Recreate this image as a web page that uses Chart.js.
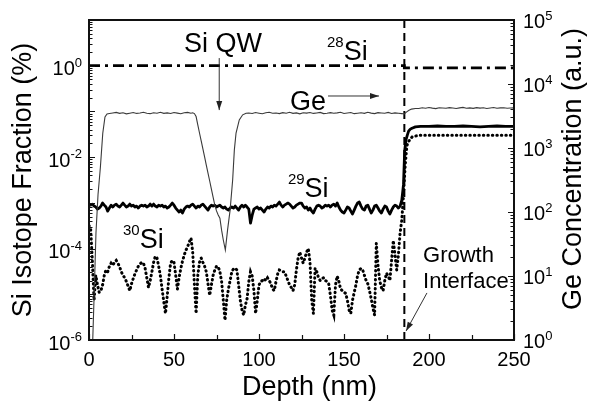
<!DOCTYPE html>
<html>
<head>
<meta charset="utf-8">
<script src="https://cdn.jsdelivr.net/npm/chart.js@4.4.1/dist/chart.umd.min.js"></script>
<style>
html,body{margin:0;padding:0;background:#fff;}
#c{display:block;}
</style>
</head>
<body>
<canvas id="c" width="590" height="403"></canvas>
<script>
// ---------------- DATA ----------------
// Depth grid of the noisy SIMS traces: 1 nm per sample, starting at 0 nm (index = depth in nm)
// 29Si fraction (%) below the growth interface (0..185 nm)
const si29Values = [
  9.0e-4, 8.9e-4, 9.4e-4, 8.5e-4, 8.1e-4, 7.3e-4, 7.7e-4, 8.5e-4, 9.9e-4, 8.9e-4,
  8.1e-4, 6.6e-4, 7.7e-4, 8.9e-4, 8.1e-4, 8.9e-4, 9.4e-4, 8.5e-4, 8.1e-4, 8.9e-4,
  9.9e-4, 8.9e-4, 8.1e-4, 8.5e-4, 9.4e-4, 8.5e-4, 8.9e-4, 8.1e-4, 8.5e-4, 7.7e-4,
  8.5e-4, 8.9e-4, 8.5e-4, 8.9e-4, 8.1e-4, 8.5e-4, 9.4e-4, 8.5e-4, 9.4e-4, 8.5e-4,
  8.1e-4, 8.9e-4, 8.5e-4, 8.9e-4, 8.1e-4, 8.5e-4, 7.7e-4, 8.1e-4, 8.9e-4, 9.9e-4,
  8.9e-4, 7.7e-4, 6.95e-4, 6.3e-4, 6.95e-4, 6.0e-4, 7.3e-4, 8.1e-4, 8.5e-4, 8.1e-4,
  8.9e-4, 9.4e-4, 8.5e-4, 7.7e-4, 8.5e-4, 8.1e-4, 8.9e-4, 9.4e-4, 8.5e-4, 7.7e-4,
  6.95e-4, 8.1e-4, 8.9e-4, 8.5e-4, 8.9e-4, 8.1e-4, 8.5e-4, 8.9e-4, 8.1e-4, 7.7e-4,
  8.1e-4, 7.3e-4, 6.95e-4, 7.7e-4, 8.1e-4, 7.7e-4, 8.5e-4, 7.7e-4, 6.95e-4, 8.1e-4,
  8.9e-4, 8.1e-4, 8.9e-4, 8.1e-4, 7.3e-4, 3.6e-4, 5.4e-4, 7.3e-4, 7.7e-4, 8.1e-4,
  7.3e-4, 7.7e-4, 6.95e-4, 6.3e-4, 7.3e-4, 8.1e-4, 7.7e-4, 8.5e-4, 8.1e-4, 8.9e-4,
  8.5e-4, 9.4e-4, 1.04e-3, 8.9e-4, 8.1e-4, 8.9e-4, 9.4e-4, 9.9e-4, 9.4e-4, 8.5e-4,
  7.7e-4, 8.1e-4, 8.9e-4, 9.4e-4, 9.9e-4, 9.9e-4, 8.5e-4, 7.7e-4, 8.1e-4, 6.95e-4,
  7.7e-4, 6.6e-4, 6.0e-4, 7.3e-4, 8.5e-4, 8.9e-4, 8.5e-4, 7.7e-4, 8.1e-4, 8.9e-4,
  8.5e-4, 8.9e-4, 8.1e-4, 8.9e-4, 9.4e-4, 8.5e-4, 9.9e-4, 8.1e-4, 6.95e-4, 6.3e-4,
  6.0e-4, 6.95e-4, 8.1e-4, 7.7e-4, 6.6e-4, 5.7e-4, 6.95e-4, 8.5e-4, 9.9e-4, 1.04e-3,
  8.5e-4, 7.3e-4, 6.95e-4, 8.5e-4, 8.9e-4, 7.3e-4, 6.0e-4, 6.95e-4, 8.5e-4, 8.9e-4,
  7.7e-4, 6.6e-4, 6.0e-4, 7.3e-4, 8.5e-4, 8.1e-4, 6.6e-4, 5.7e-4, 6.95e-4, 8.1e-4,
  8.9e-4, 8.5e-4, 7.7e-4, 8.5e-4, 1.15e-3, 2.5e-3
];
// 29Si above the interface: [depth nm, fraction %]
const si29Tail = [
  [185.7, 0.014], [186.5, 0.024], [187.2, 0.030], [188, 0.037], [189, 0.041], [190, 0.043],
  [192, 0.046], [195, 0.047], [200, 0.047], [205, 0.048], [210, 0.047], [215, 0.047],
  [220, 0.048], [225, 0.047], [230, 0.046], [235, 0.047], [240, 0.048], [245, 0.047], [250, 0.047]
];

// 30Si fraction (%) below the growth interface (0..185 nm, 1 nm per sample)
const si30Values = [
  3.2e-4, 2.6e-4, 5.0e-5, 7.4e-6, 2.6e-5, 1.6e-5, 1.1e-5, 1.2e-5, 1.6e-5, 2.6e-5,
  3.4e-5, 3.1e-5, 4.1e-5, 4.8e-5, 4.3e-5, 5.0e-5, 5.5e-5, 4.8e-5, 4.0e-5, 3.1e-5,
  2.6e-5, 2.3e-5, 1.9e-5, 1.5e-5, 1.2e-5, 1.7e-5, 2.2e-5, 2.8e-5, 3.4e-5, 4.1e-5,
  4.6e-5, 5.0e-5, 4.8e-5, 3.7e-5, 2.3e-5, 1.4e-5, 2.0e-5, 3.1e-5, 5.0e-5, 6.8e-5,
  6.2e-5, 4.1e-5, 2.5e-5, 1.3e-5, 6.8e-6, 3.8e-6, 9.0e-6, 2.3e-5, 4.8e-5, 5.5e-5,
  5.0e-5, 2.6e-5, 1.3e-5, 2.3e-5, 3.7e-5, 5.3e-5, 7.2e-5, 9.2e-5, 1.1e-4, 1.4e-4,
  1.7e-4, 8.4e-5, 1.6e-5, 3.8e-6, 2.6e-5, 5.0e-5, 6.2e-5, 5.0e-5, 4.1e-5, 3.1e-5,
  1.7e-5, 9.5e-6, 1.6e-5, 2.6e-5, 3.4e-5, 4.1e-5, 4.0e-5, 3.1e-5, 1.9e-5, 7.4e-6,
  2.7e-6, 7.4e-6, 1.3e-5, 2.0e-5, 3.1e-5, 3.6e-5, 3.7e-5, 3.4e-5, 1.6e-5, 7.4e-6,
  4.5e-6, 3.5e-6, 5.8e-6, 8.0e-6, 1.9e-5, 3.1e-5, 2.5e-5, 1.2e-5, 3.8e-6, 7.4e-6,
  1.6e-5, 1.9e-5, 2.0e-5, 2.2e-5, 2.0e-5, 2.3e-5, 2.0e-5, 1.7e-5, 1.3e-5, 1.2e-5,
  1.9e-5, 2.8e-5, 3.4e-5, 3.3e-5, 3.1e-5, 3.1e-5, 2.5e-5, 2.0e-5, 1.6e-5, 1.4e-5,
  1.2e-5, 1.6e-5, 3.4e-5, 6.2e-5, 8.4e-5, 6.2e-5, 4.8e-5, 6.2e-5, 8.4e-5, 1.0e-4,
  5.0e-5, 7.4e-6, 3.8e-6, 3.7e-5, 3.1e-5, 2.3e-5, 2.0e-5, 2.2e-5, 2.3e-5, 2.0e-5,
  1.9e-5, 1.7e-5, 9.5e-6, 4.5e-6, 3.5e-6, 1.6e-5, 2.5e-5, 1.9e-5, 1.3e-5, 1.2e-5,
  1.1e-5, 1.05e-5, 7.4e-6, 4.5e-6, 3.8e-6, 7.4e-6, 1.1e-5, 1.6e-5, 2.6e-5, 3.4e-5,
  3.7e-5, 3.4e-5, 2.6e-5, 2.0e-5, 1.7e-5, 1.2e-5, 8.0e-6, 5.0e-6, 3.5e-6, 1.3e-4,
  4.3e-5, 2.0e-5, 1.4e-5, 1.2e-5, 2.0e-5, 2.9e-5, 2.5e-5, 2.0e-5, 5.5e-5, 1.5e-4,
  7.2e-5, 3.4e-5, 7.2e-5, 2.2e-4, 4.2e-4, 1.5e-3
];
// 30Si above the interface: [depth nm, fraction %]
const si30Tail = [
  [186, 6.6e-3], [187, 0.018], [188, 0.022], [189, 0.025], [190, 0.0275], [192, 0.029],
  [195, 0.030], [200, 0.030], [210, 0.030], [220, 0.030], [230, 0.030], [240, 0.030], [250, 0.030]
];

// 28Si fraction (%): [depth nm, fraction %]
const si28Profile = [[0, 1.0], [185.5, 1.0], [185.5, 0.9], [250, 0.9]];

// Ge concentration (a.u.), right axis: [depth nm, counts]
const geProfile = [
  [2.2, 1], [3.2, 7.2], [4.1, 47], [5.3, 186], [6.7, 500], [8.1, 1700], [9.4, 3050], [10.6, 3400],
  [12, 3450], [14, 3520], [16, 3600], [18, 3480], [20, 3550], [22, 3420], [24, 3500], [26, 3580],
  [28, 3470], [30, 3530], [32, 3610], [34, 3490], [36, 3440], [38, 3560], [40, 3500], [42, 3620],
  [44, 3480], [46, 3540], [48, 3460], [50, 3590], [52, 3510], [54, 3430], [56, 3550], [58, 3600],
  [60, 3500], [61, 3550], [62, 3450], [63, 3100], [64, 2300], [65, 1715], [66, 1290], [67, 970],
  [68, 725], [69, 540], [70, 405], [71, 305], [72, 228], [73, 171], [74, 128], [75, 104],
  [76, 90], [77, 80], [78, 52], [79, 36.5], [80.2, 25.5], [81.5, 52], [83, 107], [84.5, 316],
  [85.5, 935], [86.5, 1715], [88.4, 2740], [90.4, 3300], [92.4, 3500],
  [94, 3520], [96, 3460], [98, 3580], [100, 3500], [102, 3430], [104, 3550], [106, 3610], [108, 3490],
  [110, 3530], [112, 3450], [114, 3570], [116, 3500], [118, 3620], [120, 3480], [122, 3540], [124, 3420],
  [126, 3560], [128, 3510], [130, 3590], [132, 3470], [134, 3530], [136, 3600], [138, 3450], [140, 3500],
  [142, 3570], [144, 3490], [146, 3540], [148, 3610], [150, 3460], [152, 3520], [154, 3580], [156, 3440],
  [158, 3500], [160, 3560], [162, 3480], [164, 3620], [166, 3510], [168, 3450], [170, 3570], [172, 3530],
  [174, 3490], [176, 3600], [178, 3460], [180, 3540], [182, 3500], [184, 3450],
  [185.5, 3400], [186.5, 3600], [188, 3850], [189.7, 4050], [192, 4150],
  [194, 4150], [196, 4250], [198, 4180], [200, 4300], [202, 4200], [204, 4120], [206, 4260], [208, 4220],
  [210, 4170], [212, 4280], [214, 4210], [216, 4150], [218, 4240], [220, 4310], [222, 4190], [224, 4230],
  [226, 4160], [228, 4270], [230, 4200], [232, 4250], [234, 4140], [236, 4220], [238, 4290], [240, 4180],
  [242, 4230], [244, 4260], [246, 4170], [248, 4210], [250, 4240]
];

// Growth interface depth (nm)
const interfaceDepth = 185.5;

// Axis tick labels (decade exponents)
const leftExponents = ['-6', '-4', '-2', '0'];
const rightExponents = ['0', '1', '2', '3', '4', '5'];
const xTickStep = 50;

// Text annotations, anchored in data coordinates (depth nm, left-axis value %)
const notes = [
  { text: 'Si QW', x: 78.8, y: 2.0, size: 27, align: 'center' },
  { sup: '28', text: 'Si', x: 140, y: 1.33, size: 27, align: 'left' },
  { text: 'Ge', x: 118.2, y: 0.107, size: 27, align: 'left' },
  { sup: '29', text: 'Si', x: 117, y: 1.34e-3, size: 27, align: 'left' },
  { sup: '30', text: 'Si', x: 20, y: 1.03e-4, size: 27, align: 'left' },
  { text: 'Growth', x: 196.5, y: 5.08e-5, size: 22, align: 'left' },
  { text: 'Interface', x: 196.5, y: 1.37e-5, size: 22, align: 'left' }
];
// Arrows: from [depth, value] to [depth, value] on left axis
const arrows = [
  { from: [76.6, 1.47], to: [76.6, 0.107] },
  { from: [140.6, 0.2176], to: [170.6, 0.2176] },
  { from: [198.8, 1.07e-5], to: [186.5, 1.57e-6] }
];

// ---------------- CHART ----------------
const FONT = '"Liberation Sans", Arial, Helvetica, sans-serif';
Chart.defaults.font.family = FONT;
Chart.defaults.color = '#000';

const toXY = (arr) => arr.map(p => ({ x: p[0], y: p[1] }));
const si29Data = si29Values.map((v, i) => ({ x: i, y: v })).concat(toXY(si29Tail));
const si30Data = si30Values.map((v, i) => ({ x: i, y: v })).concat(toXY(si30Tail));

function drawSup(ctx, base, exp, x, baseline, baseSize, expSize, raise, align) {
  ctx.font = baseSize + 'px ' + FONT;
  const wb = ctx.measureText(base).width;
  ctx.font = expSize + 'px ' + FONT;
  const we = ctx.measureText(exp).width;
  const x0 = align === 'right' ? x - wb - we : x;
  ctx.textAlign = 'left';
  ctx.textBaseline = 'alphabetic';
  ctx.font = baseSize + 'px ' + FONT;
  ctx.fillText(base, x0, baseline);
  ctx.font = expSize + 'px ' + FONT;
  ctx.fillText(exp, x0 + wb, baseline - raise);
}

function arrow(ctx, x1, y1, x2, y2) {
  ctx.beginPath();
  ctx.moveTo(x1, y1);
  ctx.lineTo(x2, y2);
  ctx.stroke();
  const ang = Math.atan2(y2 - y1, x2 - x1);
  const L = 9, W = 3;
  ctx.beginPath();
  ctx.moveTo(x2, y2);
  ctx.lineTo(x2 - L * Math.cos(ang) + W * Math.sin(ang), y2 - L * Math.sin(ang) - W * Math.cos(ang));
  ctx.lineTo(x2 - L * Math.cos(ang) - W * Math.sin(ang), y2 - L * Math.sin(ang) + W * Math.cos(ang));
  ctx.closePath();
  ctx.fill();
}

const decor = {
  id: 'decor',
  afterDraw(chart) {
    const { ctx, chartArea: a, scales } = chart;
    const xs = scales.x, yl = scales.y, yr = scales.y1;
    ctx.save();
    // frame
    ctx.strokeStyle = '#111';
    ctx.lineWidth = 2;
    ctx.strokeRect(a.left, a.top, a.right - a.left, a.bottom - a.top);
    // ticks (inward)
    ctx.lineWidth = 1.2;
    ctx.beginPath();
    for (let k = -6; k <= 1; k++) {
      for (let m = 1; m <= 9; m++) {
        const v = m * Math.pow(10, k);
        if (v > 10.0001) break;
        const py = Math.round(yl.getPixelForValue(v)) + 0.5;
        const len = m === 1 ? 6 : 3.5;
        ctx.moveTo(a.left, py); ctx.lineTo(a.left + len, py);
      }
    }
    for (let k = 0; k <= 5; k++) {
      for (let m = 1; m <= 9; m++) {
        const v = m * Math.pow(10, k);
        if (v > 100000.1) break;
        const py = Math.round(yr.getPixelForValue(v)) + 0.5;
        const len = m === 1 ? 6 : 3.5;
        ctx.moveTo(a.right, py); ctx.lineTo(a.right - len, py);
      }
    }
    for (let d = 0; d <= 250; d += 25) {
      const px = Math.round(xs.getPixelForValue(d)) + 0.5;
      const len = d % 50 === 0 ? 6 : 5;
      ctx.moveTo(px, a.bottom); ctx.lineTo(px, a.bottom - len);
    }
    ctx.stroke();

    // y tick labels with superscript exponents
    ctx.fillStyle = '#000';
    leftExponents.forEach(e => {
      const py = yl.getPixelForValue(Math.pow(10, Number(e)));
      drawSup(ctx, '10', e, a.left - 7, py + 9.5, 20, 13, 8.5, 'right');
    });
    rightExponents.forEach(e => {
      const py = yr.getPixelForValue(Math.pow(10, Number(e)));
      drawSup(ctx, '10', e, a.right + 9, py + 8, 20, 13, 8.5, 'left');
    });

    // x axis title (slightly right of centre, as in the original)
    ctx.font = '27px ' + FONT;
    ctx.textAlign = 'center';
    ctx.textBaseline = 'alphabetic';
    ctx.fillText('Depth (nm)', (a.left + a.right) / 2 + 8, 395);

    // right axis title (reads bottom-to-top)
    ctx.save();
    ctx.translate(574, (a.top + a.bottom) / 2 - 11);
    ctx.rotate(-Math.PI / 2);
    ctx.font = '27px ' + FONT;
    ctx.textAlign = 'center';
    ctx.textBaseline = 'middle';
    ctx.fillText('Ge Concentration (a.u.)', 0, 0);
    ctx.restore();

    // annotations
    notes.forEach(n => {
      const px = xs.getPixelForValue(n.x);
      const py = yl.getPixelForValue(n.y);
      if (n.sup) {
        drawSup(ctx, '', n.sup, px, py, n.size, 15, 13, 'left');
        ctx.font = '15px ' + FONT;
        const ws = ctx.measureText(n.sup).width;
        ctx.font = n.size + 'px ' + FONT;
        ctx.textAlign = 'left';
        ctx.textBaseline = 'alphabetic';
        ctx.fillText(n.text, px + ws, py);
      } else {
        ctx.font = n.size + 'px ' + FONT;
        ctx.textAlign = n.align;
        ctx.textBaseline = 'alphabetic';
        ctx.fillText(n.text, px, py);
      }
    });
    ctx.strokeStyle = '#333';
    ctx.fillStyle = '#222';
    ctx.lineWidth = 1;
    arrows.forEach(ar => {
      arrow(ctx,
        xs.getPixelForValue(ar.from[0]), yl.getPixelForValue(ar.from[1]),
        xs.getPixelForValue(ar.to[0]), yl.getPixelForValue(ar.to[1]));
    });
    ctx.restore();
  }
};

new Chart(document.getElementById('c'), {
  type: 'line',
  data: {
    datasets: [
      {
        label: '28Si', data: toXY(si28Profile), yAxisID: 'y',
        borderColor: '#000', borderWidth: 2.8, borderDash: [11, 5, 3, 5],
        pointRadius: 0, tension: 0, fill: false
      },
      {
        label: 'Ge', data: toXY(geProfile), yAxisID: 'y1',
        borderColor: '#3a3a3a', borderWidth: 1.1,
        pointRadius: 0, tension: 0, fill: false
      },
      {
        label: '29Si', data: si29Data, yAxisID: 'y',
        borderColor: '#000', borderWidth: 2.8, borderJoinStyle: 'round',
        pointRadius: 0, tension: 0, fill: false
      },
      {
        label: '30Si', data: si30Data, yAxisID: 'y',
        borderColor: '#000', borderWidth: 3.0, borderDash: [0.5, 4.0], borderCapStyle: 'round',
        pointRadius: 0, tension: 0, fill: false
      },
      {
        label: 'Growth interface', data: [{ x: interfaceDepth, y: 1e-6 }, { x: interfaceDepth, y: 10 }],
        yAxisID: 'y', borderColor: '#000', borderWidth: 2, borderDash: [8, 5],
        pointRadius: 0, tension: 0, fill: false
      }
    ]
  },
  options: {
    responsive: false,
    animation: false,
    events: [],
    layout: { padding: { top: 20, left: 0, right: 0, bottom: 0 } },
    plugins: { legend: { display: false }, tooltip: { enabled: false } },
    scales: {
      x: {
        type: 'linear', position: 'bottom', min: 0, max: 250,
        grid: { display: false, drawTicks: false },
        border: { display: false },
        ticks: { stepSize: xTickStep, font: { size: 20 }, color: '#000', padding: 8, maxRotation: 0 },
        title: { display: false },
        afterFit(s) { s.height = 63; }
      },
      y: {
        type: 'logarithmic', position: 'left', min: 1e-6, max: 10,
        grid: { display: false, drawTicks: false },
        border: { display: false },
        ticks: { display: false },
        title: { display: true, text: 'Si Isotope Fraction (%)', font: { size: 27 }, color: '#000', padding: { top: 7, bottom: 0 } },
        afterFit(s) { s.width = 89; }
      },
      y1: {
        type: 'logarithmic', position: 'right', min: 1, max: 1e5,
        grid: { display: false, drawTicks: false },
        border: { display: false },
        ticks: { display: false },
        title: { display: false },
        afterFit(s) { s.width = 76; }
      }
    }
  },
  plugins: [decor]
});
</script>
</body>
</html>
